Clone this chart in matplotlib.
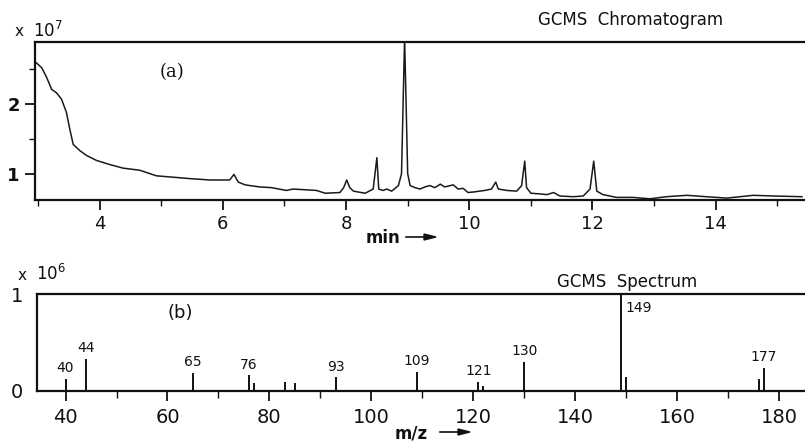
import matplotlib
matplotlib.use("Agg")
import matplotlib.pyplot as plt
from matplotlib.ticker import MultipleLocator

# ---- data: chromatogram (a) ----
time_min = [2.96, 3.06, 3.14, 3.22, 3.30, 3.38, 3.46, 3.51, 3.57, 3.68, 3.79, 3.95,
            4.17, 4.38, 4.65, 4.92, 5.19, 5.46, 5.79, 6.11, 6.18, 6.25, 6.36, 6.60,
            6.79, 7.03, 7.14, 7.52, 7.66, 7.90, 7.96, 8.01, 8.06, 8.12, 8.31, 8.44,
            8.50, 8.53, 8.60, 8.66, 8.74, 8.85, 8.90, 8.95, 9.00, 9.04, 9.12, 9.20,
            9.28, 9.36, 9.44, 9.53, 9.60, 9.74, 9.82, 9.90, 9.98, 10.09, 10.25, 10.36,
            10.43, 10.47, 10.61, 10.77, 10.85, 10.90, 10.93, 11.00, 11.15, 11.26, 11.37,
            11.47, 11.69, 11.85, 11.96, 12.02, 12.07, 12.17, 12.28, 12.39, 12.66, 12.93,
            13.20, 13.53, 13.85, 14.18, 14.61, 14.94, 15.40]
intensity_e7 = [2.60, 2.52, 2.38, 2.21, 2.16, 2.07, 1.88, 1.66, 1.42, 1.33, 1.26, 1.19,
                1.13, 1.08, 1.05, 0.97, 0.95, 0.93, 0.91, 0.91, 0.99, 0.88, 0.84, 0.81,
                0.80, 0.76, 0.78, 0.76, 0.72, 0.73, 0.80, 0.91, 0.80, 0.75, 0.72, 0.78,
                1.23, 0.78, 0.76, 0.78, 0.75, 0.83, 1.00, 2.95, 1.00, 0.83, 0.80, 0.78,
                0.81, 0.83, 0.80, 0.85, 0.81, 0.84, 0.78, 0.79, 0.73, 0.74, 0.76, 0.78,
                0.88, 0.78, 0.76, 0.75, 0.83, 1.18, 0.80, 0.72, 0.71, 0.70, 0.73,
                0.68, 0.67, 0.68, 0.78, 1.18, 0.75, 0.70, 0.68, 0.66, 0.66, 0.64,
                0.67, 0.69, 0.67, 0.65, 0.69, 0.68, 0.67]

# ---- data: mass spectrum (b) ----
mz = [40, 44, 65, 76, 77, 83, 85, 93, 109, 121, 122, 130, 149, 150, 176, 177]
abund_e6 = [0.12, 0.33, 0.19, 0.16, 0.08, 0.09, 0.08, 0.14, 0.20, 0.09, 0.05,
            0.30, 1.00, 0.14, 0.12, 0.24]
labeled_mz = [40, 44, 65, 76, 93, 109, 121, 130, 149, 177]

W, H = 805, 443
fig = plt.figure(figsize=(W / 100, H / 100), dpi=100)
fig.patch.set_facecolor("white")
plt.rcParams["font.family"] = ["DejaVu Sans"]

def fx(px):
    return px / W

def fy(py):
    return 1 - py / H

# ---------------- top panel ----------------
ax1 = fig.add_axes([fx(35), fy(199.5), 1 - fx(35), fy(42) - fy(199.5)])
ax1.plot(time_min, intensity_e7, color="#1a1a1a", lw=1.1, clip_on=True)
ax1.set_xlim(2.95, 15.45)
ax1.set_ylim(0.63, 2.89)
ax1.xaxis.set_major_locator(MultipleLocator(2))
ax1.xaxis.set_minor_locator(MultipleLocator(1))
ax1.yaxis.set_major_locator(MultipleLocator(1))
ax1.yaxis.set_minor_locator(MultipleLocator(0.5))
ax1.spines["right"].set_visible(False)
for s in ["left", "bottom", "top"]:
    ax1.spines[s].set_linewidth(1.6)
    ax1.spines[s].set_color("#111111")
ax1.tick_params(axis="both", which="major", direction="out", length=7, width=1.3,
                labelsize=13, pad=4, colors="#111111")
ax1.tick_params(axis="both", which="minor", direction="out", length=4, width=1.0,
                colors="#111111")
ax1.set_xticks([4, 6, 8, 10, 12, 14])
ax1.set_yticks([1, 2])
for lab in ax1.get_yticklabels():
    lab.set_fontweight("bold")

fig.text(fx(15), fy(31), "x", fontsize=11, va="center", ha="left", color="#111111")
fig.text(fx(33), fy(31), r"$10^{7}$", fontsize=12, va="center", ha="left", color="#111111")
ax1.text(fx(172), fy(72), "(a)", transform=fig.transFigure, fontsize=13,
         family="DejaVu Serif", ha="center", va="center", color="#111111")
fig.text(fx(631), fy(20), "GCMS  Chromatogram", fontsize=12, ha="center", va="center",
         color="#111111")
fig.text(fx(400), fy(238), "min", fontsize=12, fontweight="bold", ha="right",
         va="center", color="#111111")
fig.add_artist(plt.Line2D([fx(406), fx(432)], [fy(237), fy(237)], color="#111111", lw=1.2))
fig.add_artist(plt.Polygon([[fx(424), fy(234)], [fx(436), fy(237)], [fx(424), fy(240)]],
                           closed=True, color="#111111"))

# ---------------- bottom panel ----------------
ax2 = fig.add_axes([fx(37), fy(391), 1 - fx(37), fy(294) - fy(391)])
ax2.vlines(mz, 0, abund_e6, color="#111111", lw=1.4)
ax2.set_xlim(34.4, 185.1)
ax2.set_ylim(0, 1.0)
ax2.xaxis.set_major_locator(MultipleLocator(20))
ax2.xaxis.set_minor_locator(MultipleLocator(10))
ax2.set_xticks([40, 60, 80, 100, 120, 140, 160, 180])
ax2.set_yticks([0, 1])
ax2.spines["right"].set_visible(False)
for s in ["left", "bottom", "top"]:
    ax2.spines[s].set_linewidth(1.6)
    ax2.spines[s].set_color("#111111")
ax2.tick_params(axis="x", which="major", direction="out", length=7, width=1.3,
                labelsize=14, pad=5, colors="#111111")
ax2.tick_params(axis="x", which="minor", direction="out", length=5, width=1.0,
                colors="#111111")
ax2.tick_params(axis="y", which="major", length=0, labelsize=14, pad=10, colors="#111111")

for m, a in zip(mz, abund_e6):
    if m in labeled_mz:
        if m == 149:
            ax2.text(m + 0.8, 0.93, str(m), fontsize=10, ha="left", va="top",
                     color="#111111")
        else:
            ax2.text(m, a + 0.04, str(m), fontsize=10, ha="center", va="bottom",
                     color="#111111")

fig.text(fx(18), fy(276), "x", fontsize=11, va="center", ha="left", color="#111111")
fig.text(fx(36), fy(274), r"$10^{6}$", fontsize=12, va="center", ha="left", color="#111111")
fig.text(fx(180), fy(313), "(b)", fontsize=13, ha="center", va="center", color="#111111")
fig.text(fx(627), fy(282), "GCMS  Spectrum", fontsize=12, ha="center", va="center",
         color="#111111")
fig.text(fx(395), fy(433), "m/z", fontsize=12, fontweight="bold", ha="left",
         va="center", color="#111111")
fig.add_artist(plt.Line2D([fx(440), fx(466)], [fy(432), fy(432)], color="#111111", lw=1.2))
fig.add_artist(plt.Polygon([[fx(458), fy(429)], [fx(470), fy(432)], [fx(458), fy(435)]],
                           closed=True, color="#111111"))

fig.savefig("out.png", dpi=100, facecolor="white")
